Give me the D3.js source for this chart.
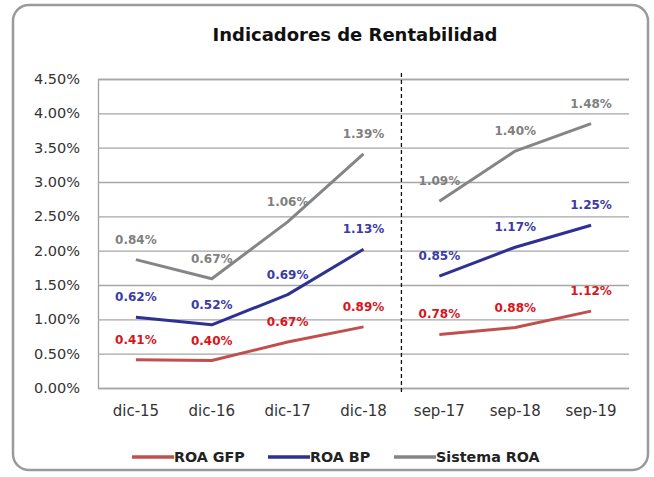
<!DOCTYPE html>
<html lang="es">
<head>
<meta charset="UTF-8">
<title>Indicadores de Rentabilidad</title>
<script src="https://d3js.org/d3.v7.min.js"></script>
<style>
    body { margin: 0; background: #fff; }
    .tick text { font-family: "DejaVu Sans", sans-serif; fill: #333; }
    .etiqueta { font-family: "DejaVu Sans", sans-serif; font-weight: bold; font-size: 12px; }
    .leyenda { font-family: "DejaVu Sans", sans-serif; font-weight: bold; font-size: 14.3px; fill: #222; }
</style>
</head>
<body>
<svg width="654" height="477"></svg>
<script>
    const categorias = ["dic-15", "dic-16", "dic-17", "dic-18", "sep-17", "sep-18", "sep-19"];
    const roaGFP = [0.41, 0.40, 0.67, 0.89, 0.78, 0.88, 1.12];
    const roaBP = [0.62, 0.52, 0.69, 1.13, 0.85, 1.17, 1.25];
    const sistemaROA = [0.84, 0.67, 1.06, 1.39, 1.09, 1.40, 1.48];
    const ticksY = [0, 0.5, 1, 1.5, 2, 2.5, 3, 3.5, 4, 4.5];
    // los dos tramos de la serie (dic y sep no se unen)
    const tramos = [["dic-15", "dic-16", "dic-17", "dic-18"], ["sep-17", "sep-18", "sep-19"]];

    const series = [
        {nombre: "ROA GFP", valores: roaGFP, color: "#c0504d", colorTexto: "#d9141b"},
        {nombre: "ROA BP", valores: roaBP, color: "#2e3192", colorTexto: "#3b3ba6"},
        {nombre: "Sistema ROA", valores: sistemaROA, color: "#858585", colorTexto: "#7f7f7f"}
    ];

    const svg = d3.select("svg");

    // marco redondeado
    svg.append("rect")
        .attr("x", 13).attr("y", 5)
        .attr("width", 635).attr("height", 465)
        .attr("rx", 16)
        .attr("fill", "#fff")
        .attr("stroke", "#9a9a9a")
        .attr("stroke-width", 2.5);

    svg.append("text")
        .text("Indicadores de Rentabilidad")
        .attr("x", 355).attr("y", 41)
        .attr("text-anchor", "middle")
        .style("font-family", "'DejaVu Sans', sans-serif")
        .style("font-weight", "bold")
        .style("font-size", "18px")
        .style("fill", "#111");

    const x = d3.scaleBand().domain(categorias).range([98, 629]).padding(0);
    const y = d3.scaleLinear().domain([0, 4.5]).range([388, 79]);

    // grilla + eje y
    const ejeY = svg.append("g")
        .attr("transform", "translate(98,0)")
        .call(d3.axisLeft(y).tickValues(ticksY).tickSize(-(629 - 98)).tickPadding(18)
            .tickFormat(d => d3.format(".2f")(d) + "%"));
    ejeY.select(".domain").attr("stroke", "#a0a0a0").attr("stroke-width", 1.3);
    ejeY.selectAll(".tick line").attr("stroke", "#a6a6a6").attr("stroke-width", 1.3);
    ejeY.selectAll(".tick text").style("font-size", "14.5px");

    // eje x
    const ejeX = svg.append("g")
        .attr("transform", "translate(0,388)")
        .call(d3.axisBottom(x).tickSize(0).tickPadding(17));
    ejeX.select(".domain").remove();
    ejeX.selectAll(".tick text").style("font-size", "15px");

    // línea punteada entre tramos
    const xCorte = x("sep-17");
    svg.append("line")
        .attr("x1", xCorte).attr("x2", xCorte)
        .attr("y1", 73).attr("y2", 393)
        .attr("stroke", "#111")
        .attr("stroke-width", 1.3)
        .attr("stroke-dasharray", "4,3");

    // las líneas son acumuladas (apiladas)
    const filas = categorias.map((c, i) => ({cat: c, "ROA GFP": roaGFP[i], "ROA BP": roaBP[i], "Sistema ROA": sistemaROA[i]}));
    const apilado = d3.stack().keys(series.map(s => s.nombre))(filas);

    const linea = d3.line()
        .x(d => x(d.data.cat) + x.bandwidth() / 2)
        .y(d => y(d[1]));

    series.forEach((s, k) => {
        const capa = apilado[k];
        tramos.forEach(tramo => {
            svg.append("path")
                .datum(capa.filter(d => tramo.includes(d.data.cat)))
                .attr("d", linea)
                .attr("fill", "none")
                .attr("stroke", s.color)
                .attr("stroke-width", 3)
                .attr("stroke-linejoin", "round");
        });
        svg.append("g").selectAll("text")
            .data(capa)
            .enter()
            .append("text")
            .attr("class", "etiqueta")
            .attr("x", d => x(d.data.cat) + x.bandwidth() / 2)
            .attr("y", d => y(d[1]) - 16)
            .attr("text-anchor", "middle")
            .style("fill", s.colorTexto)
            .text(d => d3.format(".2f")(d.data[s.nombre]) + "%");
    });

    // leyenda
    const posLeyenda = [132, 268, 394];
    const leyenda = svg.append("g").selectAll("g")
        .data(series)
        .enter()
        .append("g")
        .attr("transform", (d, i) => `translate(${posLeyenda[i]},457)`);
    leyenda.append("line")
        .attr("x1", 0).attr("x2", 42)
        .attr("stroke", d => d.color)
        .attr("stroke-width", 3.5);
    leyenda.append("text")
        .attr("class", "leyenda")
        .attr("x", 42).attr("y", 5)
        .text(d => d.nombre);
</script>
</body>
</html>
